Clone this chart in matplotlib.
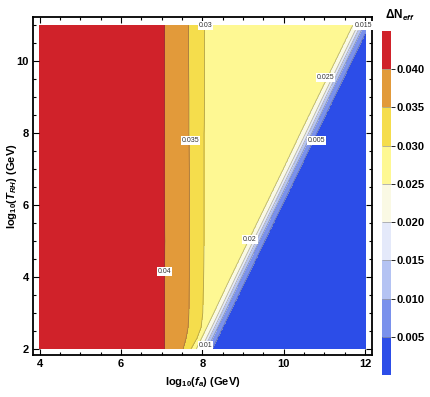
import numpy as np
import matplotlib
matplotlib.use("Agg")
import matplotlib.pyplot as plt

plt.rcParams['font.family'] = ['Liberation Sans', 'DejaVu Sans']
plt.rcParams['mathtext.fontset'] = 'custom'
plt.rcParams['mathtext.rm'] = 'Liberation Sans:bold'
plt.rcParams['mathtext.it'] = 'Liberation Sans:bold:italic'
plt.rcParams['mathtext.bf'] = 'Liberation Sans:bold'

# ---- data ----
# rows of log10(T_RH) where contour crossings were read
y_rows = [2.0, 2.3, 2.6, 3.0, 4.0, 5.0, 6.0, 7.0, 8.0, 9.0, 10.0, 11.0]
# x positions (log10 f_a) of each contour level along those rows
x_040 = [7.07, 7.07, 7.06, 7.07, 7.07, 7.08, 7.07, 7.06, 7.07, 7.07, 7.07, 7.07]
x_035 = [7.53, 7.60, 7.65, 7.67, 7.68, 7.68, 7.68, 7.68, 7.67, 7.67, 7.66, 7.66]
x_030 = [7.72, 7.87, 7.97, 8.01, 8.03, 8.04, 8.04, 8.04, 8.04, 8.05, 8.05, 8.05]
x_025 = [7.85, 7.98, 8.11, 8.28, 8.70, 9.13, 9.56, 9.99, 10.41, 10.84, 11.27, 11.70]
x_020 = [7.97, 8.10, 8.23, 8.40, 8.82, 9.25, 9.68, 10.11, 10.54, 10.96, 11.39, 11.82]
x_015 = [8.04, 8.17, 8.30, 8.47, 8.89, 9.32, 9.75, 10.18, 10.61, 11.03, 11.46, 11.89]
x_010 = [8.12, 8.25, 8.38, 8.55, 8.97, 9.40, 9.83, 10.26, 10.69, 11.11, 11.54, 11.97]
x_005 = [8.24, 8.37, 8.50, 8.67, 9.10, 9.53, 9.96, 10.39, 10.81, 11.24, 11.67, 12.10]
level_values = [0.040, 0.035, 0.030, 0.025, 0.020, 0.015, 0.010, 0.005]
edge_left_value = 0.043
edge_right_value = 0.001

levels = [0.0, 0.005, 0.010, 0.015, 0.020, 0.025, 0.030, 0.035, 0.040, 0.045]
band_colors = ['#2C4DE8', '#7A91EC', '#B4C3F3', '#E4E9FA', '#FAF9E4',
               '#FEF893', '#F5DD4C', '#E29A3A', '#D0222A']
cbar_ticks = [0.005, 0.010, 0.015, 0.020, 0.025, 0.030, 0.035, 0.040]

label_texts = ['0.03', '0.035', '0.04', '0.015', '0.025', '0.005', '0.02', '0.01']
label_pos = [(8.07, 11.0), (7.7, 7.8), (7.06, 4.15), (11.95, 11.0),
             (11.02, 9.55), (10.8, 7.8), (9.17, 5.04), (8.08, 2.1)]

# ---- build the field on a grid from the read contour positions ----
xg = np.linspace(4, 12, 801)
yg = np.linspace(2, 11, 451)
contour_x = [x_040, x_035, x_030, x_025, x_020, x_015, x_010, x_005]
Z = np.empty((len(yg), len(xg)))
for i, yv in enumerate(yg):
    xp = [4.0] + [np.interp(yv, y_rows, cx) for cx in contour_x] + [12.6]
    fp = [edge_left_value] + level_values + [edge_right_value]
    Z[i] = np.interp(xg, xp, fp)
X, Y = np.meshgrid(xg, yg)

fig = plt.figure(figsize=(4.30, 3.97), dpi=100)
ax = fig.add_axes([33/430, 42/397, 339/430, 338/397])

cf = ax.contourf(X, Y, Z, levels=levels, colors=band_colors)
cs = ax.contour(X, Y, Z, levels=levels[1:-1], colors=[(0.3, 0.3, 0.3)],
                linewidths=0.6, alpha=0.4)

for txt, pos in zip(label_texts, label_pos):
    ax.text(pos[0], pos[1], txt, fontsize=5, color='#333333',
            ha='center', va='center', zorder=5,
            bbox=dict(facecolor='white', edgecolor='none', pad=0.6))

ax.set_xlim(3.835, 12.17)
ax.set_ylim(1.83, 11.23)
ax.set_xticks([4, 6, 8, 10, 12])
ax.set_yticks([2, 4, 6, 8, 10])
ax.set_xticks(np.arange(4, 12.01, 0.5), minor=True)
ax.set_yticks(np.arange(2, 11.01, 0.5), minor=True)
ax.tick_params(which='both', direction='in', top=True, right=True,
               labelsize=8, width=0.8)
ax.tick_params(which='major', length=4, pad=3)
ax.tick_params(which='minor', length=2)
for lab in ax.get_xticklabels() + ax.get_yticklabels():
    lab.set_fontweight('bold')
for s in ax.spines.values():
    s.set_linewidth(1.3)

ax.set_xlabel(r'log$_{10}$($f_a$) (GeV)', fontsize=8, fontweight='bold')
ax.set_ylabel(r'log$_{10}$($T_{RH}$) (GeV)', fontsize=8, fontweight='bold')
ax.xaxis.set_label_coords(0.5, -(382 - 355) / 338, transform=ax.transAxes)
ax.xaxis.label.set_va('center')
ax.yaxis.set_label_coords(-(33 - 12) / 339, 0.5, transform=ax.transAxes)
ax.yaxis.label.set_va('center')

cax = fig.add_axes([382/430, 22/397, 9/430, 344/397])
cb = fig.colorbar(cf, cax=cax, ticks=cbar_ticks, drawedges=True)
cb.outline.set_visible(False)
cb.dividers.set_color((0.6, 0.6, 0.6))
cb.dividers.set_linewidth(0.5)
cb.ax.tick_params(length=3, width=0.6, labelsize=8, pad=1)
cb.ax.set_yticklabels(['%.3f' % v for v in cbar_ticks])
for lab in cb.ax.get_yticklabels():
    lab.set_fontweight('bold')
fig.text(400/430, 1 - 15/397, r'$\Delta$N$_{eff}$', fontsize=8.5,
         fontweight='bold', ha='center', va='center')

fig.savefig('out.png', dpi=100)
